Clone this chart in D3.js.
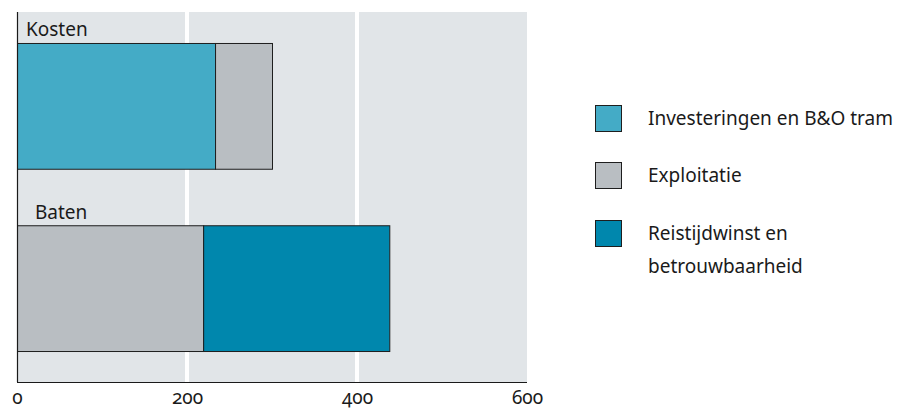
<!DOCTYPE html>
<html>
<head>
<meta charset="utf-8">
<script src="https://cdn.jsdelivr.net/npm/d3@7"></script>
<style>
  html, body { margin: 0; padding: 0; background: #ffffff; }
  svg text { font-family: "Noto Sans", "Open Sans", sans-serif; fill: #1a1a1a; }
</style>
</head>
<body>
<svg id="chart" width="913" height="410"></svg>
<script>
// Kosten en baten (stacked horizontal bars)
const categories = ["Kosten", "Baten"];
const seriesNames = ["Investeringen en B&O tram", "Exploitatie", "Reistijdwinst en betrouwbaarheid"];
const investeringen = [233, 0];
const exploitatie = [67, 219];
const reistijdwinst = [0, 219];
const tickValues = [0, 200, 400, 600];

// stacking order per bar: Kosten = investeringen then exploitatie; Baten = exploitatie then reistijdwinst
const stackOrder = {
  "Kosten": [["Investeringen en B&O tram", investeringen[0]], ["Exploitatie", exploitatie[0]]],
  "Baten": [["Exploitatie", exploitatie[1]], ["Reistijdwinst en betrouwbaarheid", reistijdwinst[1]]]
};

const colors = {
  "Investeringen en B&O tram": "#44abc6",
  "Exploitatie": "#b9bec2",
  "Reistijdwinst en betrouwbaarheid": "#0087ad"
};

const svg = d3.select("#chart");
const plot = { left: 17, right: 527, top: 12, bottom: 382 };

const x = d3.scaleLinear().domain([0, 600]).range([plot.left, plot.right]);
const y = d3.scaleBand().domain(categories).range([plot.top, plot.bottom])
  .paddingInner(0.31).paddingOuter(0.17);

// background panel
svg.append("rect")
  .attr("x", plot.left).attr("y", plot.top)
  .attr("width", plot.right - plot.left).attr("height", plot.bottom - plot.top)
  .attr("fill", "#e1e5e8");

// vertical white gridlines
svg.append("g").selectAll("line")
  .data(tickValues.filter(d => d > 0 && d < 600))
  .join("line")
  .attr("x1", d => x(d)).attr("x2", d => x(d))
  .attr("y1", plot.top).attr("y2", plot.bottom)
  .attr("stroke", "#ffffff").attr("stroke-width", 4);

// stacked segments
categories.forEach(cat => {
  let acc = 0;
  stackOrder[cat].forEach(([name, v]) => {
    svg.append("rect")
      .attr("x", x(acc) + 0.5)
      .attr("y", y(cat) + 0.5)
      .attr("width", x(acc + v) - x(acc))
      .attr("height", y.bandwidth())
      .attr("fill", colors[name])
      .attr("stroke", "#1e1e1e").attr("stroke-width", 1);
    acc += v;
  });
  svg.append("text")
    .attr("x", cat === "Kosten" ? 26 : 35)
    .attr("y", y(cat) - 6.5)
    .attr("font-size", 19)
    .text(cat);
});

// axis lines: left and bottom
svg.append("line")
  .attr("x1", plot.left + 0.5).attr("x2", plot.left + 0.5)
  .attr("y1", plot.top).attr("y2", plot.bottom)
  .attr("stroke", "#1a1a1a").attr("stroke-width", 1.2);
svg.append("line")
  .attr("x1", plot.left).attr("x2", plot.right)
  .attr("y1", plot.bottom + 0.5).attr("y2", plot.bottom + 0.5)
  .attr("stroke", "#1a1a1a").attr("stroke-width", 1.2);

// x tick labels (old-style figures)
const xAxis = d3.axisBottom(x).tickValues(tickValues).tickSize(0).tickPadding(0)
  .tickFormat(d3.format("d"));
const gx = svg.append("g").attr("transform", `translate(0,${plot.bottom})`).call(xAxis);
gx.select(".domain").remove();
gx.selectAll("text")
  .attr("y", 22).attr("dy", null)
  .attr("font-size", 19)
  .attr("font-family", "\"Open Sans\", \"Noto Sans\", sans-serif")
  .style("font-variant-numeric", "oldstyle-nums")
  .attr("fill", "#1a1a1a");

// legend
const legendItems = [
  { name: seriesNames[0], lines: ["Investeringen en B&O tram"], y: 105 },
  { name: seriesNames[1], lines: ["Exploitatie"], y: 162 },
  { name: seriesNames[2], lines: ["Reistijdwinst en", "betrouwbaarheid"], y: 220 }
];
const lg = svg.append("g");
legendItems.forEach(item => {
  lg.append("rect")
    .attr("x", 595.5).attr("y", item.y + 0.5)
    .attr("width", 26).attr("height", 26)
    .attr("fill", colors[item.name])
    .attr("stroke", "#1e1e1e").attr("stroke-width", 1);
  item.lines.forEach((t, i) => {
    lg.append("text")
      .attr("x", 648)
      .attr("y", item.y + 20 + i * 33)
      .attr("font-size", 19)
      .text(t);
  });
});
</script>
</body>
</html>
